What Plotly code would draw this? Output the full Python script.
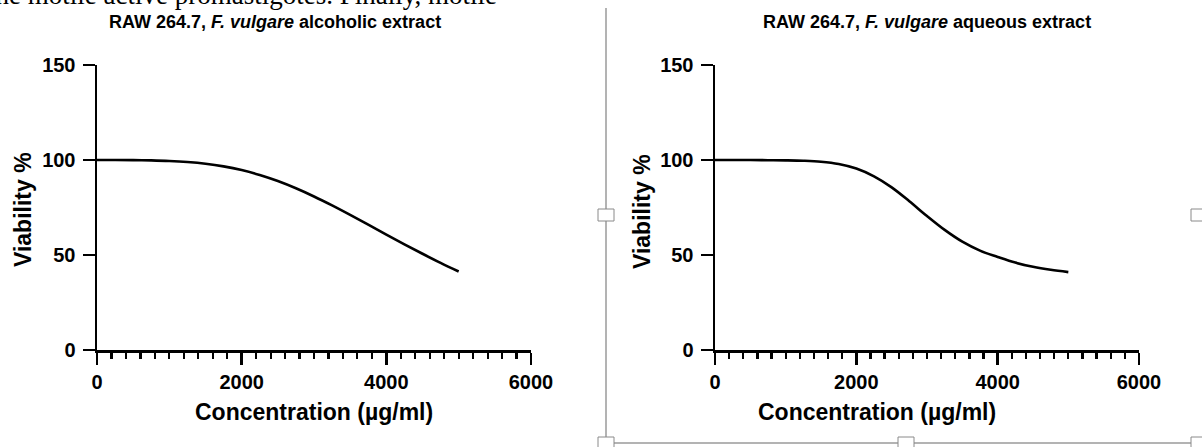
import plotly.graph_objects as go

W, H = 1202, 447

# ---- data ----
conc = [0, 250, 500, 750, 1000, 1250, 1500, 1750, 2000, 2250, 2500,
        2750, 3000, 3250, 3500, 3750, 4000, 4250, 4500, 4750, 5000]
viab_alcoholic = [100, 100, 99.95, 99.8, 99.5, 98.95, 98.05, 96.65, 94.7, 92.1, 88.9,
                  85.1, 80.8, 76.1, 71.1, 65.95, 60.75, 55.6, 50.65, 45.85, 41.3]
viab_aqueous = [100, 100, 100, 99.9, 99.8, 99.6, 99.1, 97.9, 95.5, 91.4, 85.6,
                78.3, 70.5, 63.2, 57.0, 52.3, 49.0, 46.0, 43.8, 42.2, 41.0]
x_ticks = [0, 2000, 4000, 6000]
y_ticks = [0, 50, 100, 150]
title_left = "RAW 264.7, <i>F. vulgare</i> alcoholic extract"
title_right = "RAW 264.7, <i>F. vulgare</i> aqueous extract"
x_title = "Concentration (µg/ml)"
y_title = "Viability %"
doc_text = "the motile active promastigotes. Finally, motile"


def fx(p):
    return p / W


def fy(p):
    return 1 - p / H


FONT = "Liberation Sans, Arial, sans-serif"

fig = go.Figure()
fig.add_trace(go.Scatter(x=conc, y=viab_alcoholic, mode="lines",
                         line=dict(color="black", width=2.6, shape="spline", smoothing=1),
                         xaxis="x", yaxis="y", showlegend=False, hoverinfo="skip"))
fig.add_trace(go.Scatter(x=conc, y=viab_aqueous, mode="lines",
                         line=dict(color="black", width=2.6, shape="spline", smoothing=1),
                         xaxis="x2", yaxis="y2", showlegend=False, hoverinfo="skip"))
# the partly hidden line of document text above the picture (clipped by a thin strip subplot)
fig.add_trace(go.Scatter(x=[497], y=[3], mode="text", text=[doc_text], textposition="middle left",
                         textfont=dict(family="Liberation Serif, Times New Roman, serif", size=27, color="black"),
                         cliponaxis=True, xaxis="x3", yaxis="y3", showlegend=False, hoverinfo="skip"))

ydom = [fy(350), fy(65)]


def xaxis(dom, anchor):
    return dict(
        domain=dom, range=[0, 6000], anchor=anchor,
        showline=True, linecolor="black", linewidth=2.5,
        showgrid=False, zeroline=False,
        tickmode="array", tickvals=x_ticks, ticks="outside", ticklen=12, tickwidth=2.5, tickcolor="black",
        tickfont=dict(family=FONT, size=20, color="black", weight="bold"),
        minor=dict(dtick=200, ticks="outside", ticklen=6, tickwidth=2.2, tickcolor="black", showgrid=False),
        fixedrange=True,
    )


def yaxis(anchor):
    return dict(
        domain=ydom, range=[0, 150], anchor=anchor,
        showline=True, linecolor="black", linewidth=2.5,
        showgrid=False, zeroline=False,
        tickmode="array", tickvals=y_ticks, ticks="outside", ticklen=12, tickwidth=2.5, tickcolor="black",
        tickfont=dict(family=FONT, size=20, color="black", weight="bold"),
        ticklabelstandoff=3,
        fixedrange=True,
    )


fig.update_layout(
    width=W, height=H,
    margin=dict(l=0, r=0, t=0, b=0, autoexpand=False),
    paper_bgcolor="white", plot_bgcolor="rgba(0,0,0,0)",
    hovermode=False,
    xaxis=xaxis([fx(97), fx(531)], "y"),
    yaxis=yaxis("x"),
    xaxis2=xaxis([fx(715), fx(1139)], "y2"),
    yaxis2=yaxis("x2"),
    xaxis3=dict(domain=[0, 1], range=[0, W], anchor="y3", visible=False, fixedrange=True),
    yaxis3=dict(domain=[fy(11), 1], range=[-11, 0], anchor="x3", visible=False, fixedrange=True),
)

ann = []
for cx, t in [(275, title_left), (927, title_right)]:
    ann.append(dict(x=fx(cx), y=fy(22), xref="paper", yref="paper", text="<b>" + t + "</b>", showarrow=False,
                    xanchor="center", yanchor="middle", font=dict(family=FONT, size=18, color="black")))
for cx in [314, 877]:
    ann.append(dict(x=fx(cx), y=fy(412), xref="paper", yref="paper", text="<b>" + x_title + "</b>", showarrow=False,
                    xanchor="center", yanchor="middle", font=dict(family=FONT, size=23, color="black")))
for cx, cy in [(23, 210), (642, 212)]:
    ann.append(dict(x=fx(cx), y=fy(cy), xref="paper", yref="paper", text="<b>" + y_title + "</b>", showarrow=False,
                    textangle=-90, xanchor="center", yanchor="middle", font=dict(family=FONT, size=23, color="black")))
fig.update_layout(annotations=ann)

# selection frame of the embedded picture
grey = "#9a9a9a"
shapes = [
    dict(type="line", xref="paper", yref="paper", x0=fx(606), x1=fx(606), y0=fy(8), y1=fy(443),
         line=dict(color=grey, width=1.5)),
    dict(type="line", xref="paper", yref="paper", x0=fx(606), x1=fx(1202), y0=fy(443), y1=fy(443),
         line=dict(color=grey, width=1.5)),
]
for hx, hy in [(606, 215), (1199, 215), (606, 443), (906, 443), (1199, 443)]:
    shapes.append(dict(type="rect", xref="paper", yref="paper", x0=fx(hx - 8), x1=fx(hx + 8),
                       y0=fy(hy + 6), y1=fy(hy - 6),
                       fillcolor="white", line=dict(color="#8a8a8a", width=1)))
fig.update_layout(shapes=shapes)

fig.write_html("out.html", config={"displayModeBar": False, "staticPlot": True},
               post_script="document.body.style.margin='0';document.body.style.overflow='hidden';")
